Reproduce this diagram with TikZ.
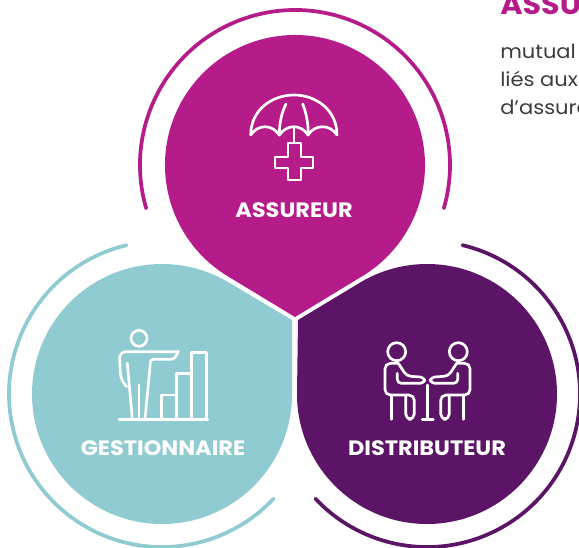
\documentclass[tikz,border=0pt]{standalone}
\usepackage{fontspec}
\setmainfont{Poppins}[FakeStretch=1.08]
\usetikzlibrary{calc}
\definecolor{assureurcol}{HTML}{B51C8A}
\definecolor{gestioncol}{HTML}{8FCBD1}
\definecolor{distribcol}{HTML}{5C1566}
\definecolor{textcol}{HTML}{3C3C3C}
\tikzset{
  ringline/.style={line width=2.8pt, line cap=round},
  iconline/.style={draw=white, line width=2pt, line cap=round, line join=round},
  rolelabel/.style={text=white, font=\bfseries\fontsize{15.6}{16}\selectfont, inner sep=0pt},
  sidetext/.style={text=textcol, font=\fontsize{14.6}{16}\selectfont, anchor=base west, inner sep=0pt}
}
\begin{document}
\begin{tikzpicture}[x=.75pt, y=-.75pt]
    \clip (0,0) rectangle (579,547);
    \coordinate (top) at (295,165);
    \coordinate (left) at (162,394);
    \coordinate (right) at (427,394);

    \fill[assureurcol] (295,317) -- ($(top)+(121.1:130)$) arc[start angle=121.1, end angle=418.9, radius=130] -- cycle;
    \fill[gestioncol] (292,320) -- ($(left)+(0:130)$) arc[start angle=0, end angle=300.7, radius=130] -- cycle;
    \fill[distribcol] (298,320) -- ($(right)+(180:130)$) arc[start angle=180, end angle=-120.7, radius=130] -- cycle;

    \draw[ringline, assureurcol] ($(top)+(163.8:155)$) arc[start angle=163.8, end angle=376.2, radius=155];
    \draw[ringline, gestioncol] ($(left)+(256.6:153)$) arc[start angle=256.6, end angle=43.2, radius=153];
    \draw[ringline, distribcol] ($(right)+(-76.6:153)$) arc[start angle=-76.6, end angle=136.8, radius=153];

    \node[rolelabel] (assureur) at (294,210) {ASSUREUR};
    \node[rolelabel] (gestionnaire) at (163,448) {GESTIONNAIRE};
    \node[rolelabel] (distributeur) at (427,448) {DISTRIBUTEUR};

    \node[anchor=base west, inner sep=0pt, text=assureurcol, font=\bfseries\fontsize{21}{22}\selectfont] (title) at (500,14) {ASSU};
    \node[sidetext] (line1) at (500,58) {mutual};
    \node[sidetext] (line2) at (500,86) {liés aux};
    \node[sidetext] (line3) at (500,114) {d’assura};

    % umbrella
    \draw[iconline] (250.7,135) .. controls (250.7,110) and (272,95) .. (294,95)
      .. controls (316,95) and (337,110) .. (337,135)
      .. controls (330,124) and (315,124) .. (308,135)
      .. controls (301,124) and (287,124) .. (279.3,135)
      .. controls (272,124) and (258,124) .. (250.7,135) -- cycle;
    \draw[iconline] (279.3,135) .. controls (279.3,120) and (283,110) .. (286,104);
    \draw[iconline] (308.3,135) .. controls (308.3,120) and (305,110) .. (302.7,104);
    \draw[iconline] (294,128) -- (294,143);
    \draw[iconline] (288,143) -- (301,143) -- (301,157) -- (313,157) -- (313,168)
      -- (301,168) -- (301,180) -- (288,180) -- (288,168) -- (275,168) -- (275,157) -- (288,157) -- cycle;

    % person and bars
    \draw[iconline] (139,338.3) circle[radius=8];
    \draw[iconline] (119,419.3) -- (207.7,419.3);
    \draw[iconline] (191.7,419.3) -- (191.7,352.3) -- (206.7,352.3) -- (206.7,419.3);
    \draw[iconline] (176.7,419.3) -- (176.7,373.3) -- (191.7,373.3);
    \draw[iconline] (161.7,419.3) -- (161.7,395) -- (176.7,395);
    \draw[iconline, rounded corners=5pt] (126.7,386.7) -- (120.7,380) -- (119.3,351.7) -- (178.3,351.7);
    \draw[iconline, rounded corners=2pt] (178.3,351.7) -- (174,359.3) -- (150.7,359.3) -- (145,419);
    \draw[iconline] (127.3,363.3) -- (132.3,419);
    \draw[iconline] (139,385) -- (139,419);

    % two people at a table
    \draw[iconline] (427.3,385) -- (427.3,419.3);
    \draw[iconline] (422.3,419.3) -- (433.3,419.3);
    \foreach \s in {1,-1}{
        \begin{scope}[shift={(427.5,0)}, xscale=\s]
            \draw[iconline] (-30.8,351.7) circle[radius=9];
            \draw[iconline, rounded corners=4pt] (-29.2,363.3) -- (-42.5,363.3) -- (-42.5,395) -- (-13.2,395)
              -- (-13.2,419.3) -- (-21.8,419.3) -- (-21.8,395.5);
            \draw[iconline] (-35.8,395) -- (-35.8,419.3);
            \draw[iconline, rounded corners=3pt] (-29.2,363.3) -- (-20.8,376) -- (-3,377.3) -- (-3,383.3) -- (-30.2,383.3) -- (-30.2,373.3);
        \end{scope}
    }
\end{tikzpicture}
\end{document}
